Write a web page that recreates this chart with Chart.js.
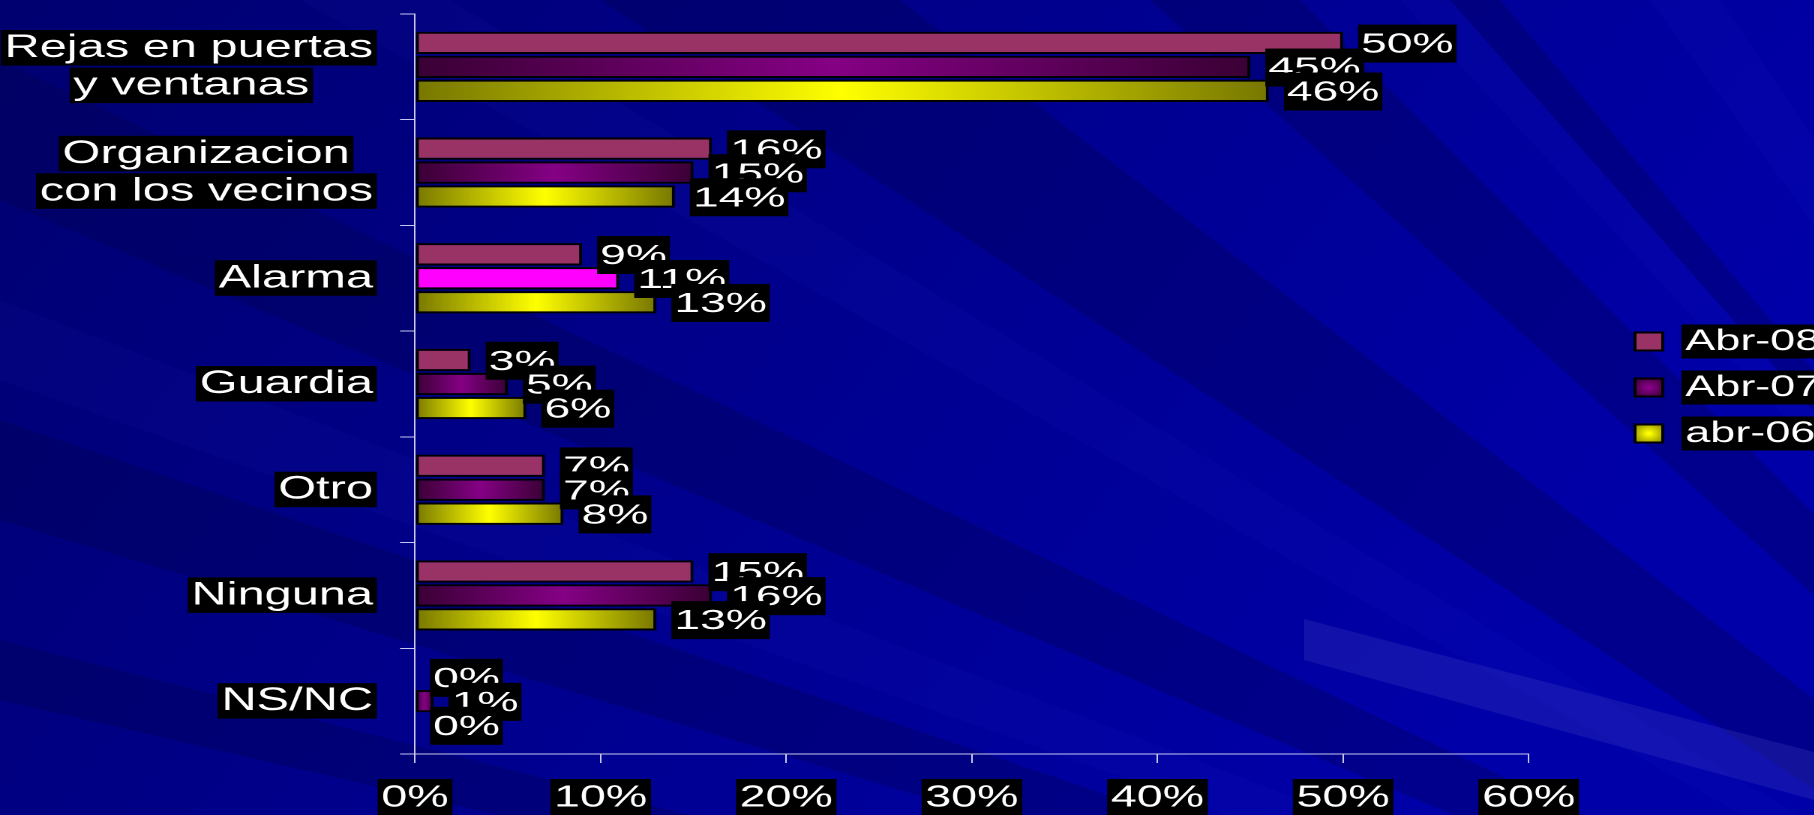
<!DOCTYPE html>
<html>
<head>
<meta charset="utf-8">
<script src="https://cdn.jsdelivr.net/npm/chart.js@4/dist/chart.umd.min.js"></script>
<style>
  html, body { margin: 0; padding: 0; width: 1814px; height: 815px; overflow: hidden; background: #000088; }
  #bg { position: absolute; left: 0; top: 0; }
  #wrap { position: absolute; left: 0; top: 0; width: 1240px; height: 815px; transform: scaleX(1.5); transform-origin: 0 0; }
</style>
</head>
<body>
<svg id="bg" width="1814" height="815" viewBox="0 0 1814 815">
  <defs>
    <linearGradient id="g0" x1="0" y1="0" x2="1" y2="0.35">
      <stop offset="0" stop-color="#000070"/>
      <stop offset="0.45" stop-color="#00008a"/>
      <stop offset="1" stop-color="#0000a8"/>
    </linearGradient>
  </defs>
  <rect width="1814" height="815" fill="url(#g0)"/>
  <g fill="#000040" opacity="0.26">
    <polygon points="2600,1300 600,0 900,0"/>
    <polygon points="2600,1300 1150,0 1300,0"/>
    <polygon points="2600,1300 1450,0 1500,0"/>
    <polygon points="2600,1300 0,60 0,200"/>
    <polygon points="2600,1300 0,420 0,520"/>
    <polygon points="2600,1300 0,640 0,700"/>
  </g>
  <g fill="#5050ff" opacity="0.045">
    <polygon points="2600,1300 1400,0 1450,0"/>
    <polygon points="2600,1300 1650,0 1720,0"/>
    <polygon points="2600,1300 0,300 0,380"/>
    <polygon points="2600,1300 300,0 450,0"/>
  </g>
  <polygon points="1304,619 1814,752 1814,800 1304,660" fill="#3a3ac0" opacity="0.3"/>
</svg>
<div id="wrap"><canvas id="c"></canvas></div>
<script>
// ---- data ----
const categories = [
  ['Rejas en puertas', 'y ventanas'],
  ['Organizacion', 'con los vecinos'],
  'Alarma',
  'Guardia',
  'Otro',
  'Ninguna',
  'NS/NC'
];
const seriesNames = ['Abr-08', 'Abr-07', 'abr-06'];
const abr08 = [50, 16, 9, 3, 7, 15, 0];
const abr07 = [45, 15, 11, 5, 7, 16, 1];
const abr06 = [46, 14, 13, 6, 8, 13, 0];
const xTickValues = [0, 10, 20, 30, 40, 50, 60];

// ---- styles ----
const FONT = "'Liberation Sans', Arial, sans-serif";
Chart.defaults.font.family = FONT;
const AXIS_COLOR = '#c8c8f0';
const CAT_SIZE = 32.5;
const TICK_SIZE = 31;
const VAL_SIZE = 28;
const VAL_STRETCH = 1.1;

// centre the lines of a multi-line category label inside its (right-aligned) block
const mctx = document.createElement('canvas').getContext('2d');
function padLines(cat) {
  const lines = Array.isArray(cat) ? cat : [cat];
  if (lines.length < 2) return lines.slice();
  mctx.font = CAT_SIZE + 'px ' + FONT;
  const ws = lines.map(l => mctx.measureText(l).width);
  const max = Math.max(...ws);
  const sp = mctx.measureText(' ').width;
  const th = mctx.measureText('\u2009').width || sp;
  return lines.map((l, k) => {
    let gap = (max - ws[k]) / 2;
    let s = l;
    while (gap >= sp) { s += ' '; gap -= sp; }
    while (gap >= th * 0.5 && th > 0) { s += '\u2009'; gap -= th; }
    return s;
  });
}

function hGrad(ctx, stops, flat) {
  const chart = ctx.chart;
  const xs = chart.scales && chart.scales.x;
  if (!xs || ctx.type !== 'data' || !chart.chartArea) return flat;
  const x0 = xs.getPixelForValue(0);
  const x1 = xs.getPixelForValue(ctx.raw);
  if (!(x1 - x0 > 1)) return flat;
  const g = chart.ctx.createLinearGradient(x0, 0, x1, 0);
  stops.forEach(s => g.addColorStop(s[0], s[1]));
  return g;
}
const purpleStops = [[0, '#3a0034'], [0.5, '#850085'], [1, '#3a0034']];
const yellowStops = [[0, '#777700'], [0.5, '#ffff00'], [1, '#777700']];

const LEG = { left: 1074, top: 310.5, pad: 16, box: 18.5, boxH: 18, font: 30 };

function legendFill(chart, i) {
  if (i === 0) return '#993366';
  const cx = LEG.left + LEG.pad + LEG.box / 2;
  const cy = LEG.top + LEG.pad + i * (LEG.font + LEG.pad) + LEG.font / 2;
  const g = chart.ctx.createRadialGradient(cx, cy, 1, cx, cy, 12);
  if (i === 1) { g.addColorStop(0, '#8a008a'); g.addColorStop(1, '#3a0034'); }
  else { g.addColorStop(0, '#ffff00'); g.addColorStop(1, '#8a8a00'); }
  return g;
}

const labelPlugin = {
  id: 'custom',
  afterLayout(chart) {
    const lg = chart.legend;
    if (lg) {
      const w = lg.width;
      lg.left = LEG.left; lg.right = LEG.left + w;
      lg.top = LEG.top; lg.bottom = LEG.top + 200; lg.height = 200;
    }
  },
  beforeDraw(chart) {
    const ctx = chart.ctx;
    ctx.save();
    ctx.fillStyle = '#000';
    // y tick label backdrops, one per text line
    const ys = chart.scales.y;
    const yf = ys.options.ticks.font;
    ctx.font = yf.size + 'px ' + FONT;
    const lh = yf.size * yf.lineHeight;
    const right = ys.right - ys.options.grid.tickLength - ys.options.ticks.padding;
    categories.forEach((cat, i) => {
      const lines = padLines(cat);
      const yc = ys.getPixelForTick(i);
      lines.forEach((ln, j) => {
        const cy = yc + (j - (lines.length - 1) / 2) * lh;
        const wFull = ctx.measureText(ln).width;
        const trimmed = ln.replace(/[\s\u2009]+$/, '');
        const w = ctx.measureText(trimmed).width;
        const r = right - (wFull - w);
        ctx.fillRect(r - w - 2.5, cy - 18, w + 5, 35.5);
      });
    });
    // legend text backdrops
    const lg = chart.legend;
    ctx.font = LEG.font + 'px ' + FONT;
    seriesNames.forEach((name, i) => {
      const cy = lg.top + LEG.pad + i * (LEG.font + LEG.pad) + LEG.font / 2;
      const x = lg.left + LEG.pad + LEG.box + LEG.font / 2;
      const w = ctx.measureText(name).width;
      ctx.fillRect(x - 2.5, cy - 17, w + 5, 34);
    });
    ctx.restore();
  },
  afterDatasetsDraw(chart) {
    const ctx = chart.ctx;
    ctx.save();
    ctx.font = VAL_SIZE + 'px ' + FONT;
    ctx.textBaseline = 'alphabetic';
    ctx.textAlign = 'left';
    const cap = VAL_SIZE * 0.716;
    chart.data.datasets.forEach((ds, di) => {
      const meta = chart.getDatasetMeta(di);
      meta.data.forEach((el, j) => {
        const txt = ds.data[j] + '%';
        const w = ctx.measureText(txt).width * VAL_STRETCH;
        const left = el.x + 10;
        ctx.fillStyle = '#000';
        ctx.fillRect(left, el.y - 18.3, w + 4, 38);
        ctx.fillStyle = '#fff';
        ctx.save();
        ctx.translate(left + 2, el.y - 0.3 + cap / 2);
        ctx.scale(VAL_STRETCH, 1);
        ctx.fillText(txt, 0, 0);
        ctx.restore();
      });
    });
    ctx.restore();
  }
};

new Chart(document.getElementById('c'), {
  type: 'bar',
  data: {
    labels: categories,
    datasets: [
      { label: seriesNames[0], data: abr08, backgroundColor: '#993366' },
      { label: seriesNames[1], data: abr07,
        backgroundColor: (c) => c.dataIndex === 2 ? '#ff00ff' : hGrad(c, purpleStops, '#6a006a') },
      { label: seriesNames[2], data: abr06,
        backgroundColor: (c) => hGrad(c, yellowStops, '#d8d800') }
    ]
  },
  options: {
    indexAxis: 'y',
    responsive: true,
    maintainAspectRatio: false,
    devicePixelRatio: 2,
    animation: false,
    layout: { padding: { top: 14, left: 0, right: 71.3, bottom: 0 } },
    datasets: {
      bar: {
        categoryPercentage: 0.68,
        barPercentage: 0.93,
        borderColor: '#000000',
        borderWidth: 2,
        borderSkipped: false
      }
    },
    plugins: {
      tooltip: { enabled: false },
      legend: {
        display: true,
        position: 'right',
        align: 'start',
        maxWidth: 150,
        labels: {
          color: '#ffffff',
          font: { size: LEG.font, family: FONT },
          boxWidth: LEG.box,
          boxHeight: LEG.boxH,
          padding: LEG.pad,
          generateLabels: (chart) => seriesNames.map((name, i) => ({
            text: name,
            fillStyle: legendFill(chart, i),
            strokeStyle: '#000000',
            lineWidth: 2,
            fontColor: '#ffffff',
            hidden: false,
            datasetIndex: i
          }))
        }
      }
    },
    scales: {
      x: {
        type: 'linear',
        min: 0,
        max: 60,
        afterBuildTicks: (s) => { s.ticks = xTickValues.map(v => ({ value: v })); },
        afterFit: (s) => { s.height = 61; s.paddingLeft = 0; s.paddingRight = 0; },
        border: { display: true, color: AXIS_COLOR, width: 1 },
        grid: { display: true, drawOnChartArea: false, drawTicks: true, tickLength: 9, color: AXIS_COLOR, lineWidth: 1 },
        ticks: {
          callback: (v) => v + '%',
          color: '#ffffff',
          font: { size: TICK_SIZE, family: FONT, lineHeight: 1.17 },
          padding: 17,
          maxRotation: 0,
          autoSkip: false,
          showLabelBackdrop: true,
          backdropColor: '#000000',
          backdropPadding: { top: 1, bottom: 3, left: 2.5, right: 2.5 }
        }
      },
      y: {
        type: 'category',
        afterFit: (s) => { s.width = 276.7; s.paddingTop = 0; s.paddingBottom = 0; },
        border: { display: true, color: AXIS_COLOR, width: 1 },
        grid: { display: true, offset: true, drawOnChartArea: false, drawTicks: true, tickLength: 10, color: AXIS_COLOR, lineWidth: 1 },
        ticks: {
          callback: function (value, index) { return padLines(categories[index]); },
          color: '#ffffff',
          font: { size: CAT_SIZE, family: FONT, lineHeight: 1.154 },
          padding: 18,
          autoSkip: false
        }
      }
    }
  },
  plugins: [labelPlugin]
});
</script>
</body>
</html>
